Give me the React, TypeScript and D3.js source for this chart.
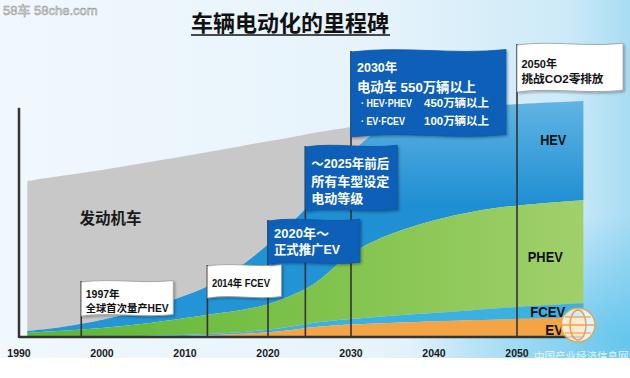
import React from "react";
import * as d3 from "d3";

// ---------- data ----------
const years = [1991, 1995, 2000, 2005, 2010, 2014, 2017, 2020, 2023, 2025, 2027, 2030, 2033, 2036, 2040, 2045, 2050, 2058];
const evValues = [0, 0, 0, 0.2, 0.4, 0.8, 1.3, 1.9, 2.9, 4.0, 4.6, 5.2, 5.6, 6.0, 6.5, 7.1, 7.5, 8.3];
const fcevValues = [0, 0, 0.2, 0.2, 0.4, 0.6, 0.8, 1.0, 1.5, 1.7, 1.9, 2.3, 2.7, 3.1, 3.5, 4.2, 5.0, 5.8];
const phevValues = [1.7, 2.5, 3.5, 5.0, 7.1, 8.5, 9.2, 10.4, 13.1, 14.8, 19.4, 27.9, 32.1, 35.4, 38.8, 41.3, 42.5, 42.9];
const hevValues = [0.8, 1.3, 3.3, 5.8, 9.2, 12.9, 18.8, 25.0, 30.4, 34.6, 37.5, 41.7, 45.8, 45.8, 45.0, 43.3, 42.1, 41.3];
const iceValues = [62.5, 63.3, 62.5, 61.3, 58.3, 55.0, 49.6, 43.3, 35.4, 29.6, 22.5, 10.4, 2.9, 0, 0, 0, 0, 0];

const seriesKeys = ["EV", "FCEV", "PHEV", "HEV", "ICE"];
const tickYears = [1990, 2000, 2010, 2020, 2030, 2040, 2050];

const flagYears = [1997.5, 2012.7, 2020, 2024.5, 2030, 2050];
const flagTexts = [
  ["1997年", "全球首次量产HEV"],
  ["2014年  FCEV"],
  ["2020年～", "正式推广EV"],
  ["～2025年前后", "所有车型设定", "电动等级"],
  ["2030年", "电动车  550万辆以上"],
  ["2050年", "挑战CO2零排放"],
];
const bulletLabels = ["· HEV·PHEV", "· EV·FCEV"];
const bulletValues = ["450万辆以上", "100万辆以上"];
const seriesLabels = ["HEV", "PHEV", "FCEV", "EV"];
const title = "车辆电动化的里程碑";
const iceLabel = "发动机车";

// ---------- layout ----------
const W = 630, H = 378;
const FONT = "'Liberation Sans', 'Noto Sans CJK SC', sans-serif";
const x = d3.scaleLinear().domain([1990, 2050]).range([19, 517]);
const y = d3.scaleLinear().domain([0, 100]).range([337, 97]);

const flagLayout = [
  { w: 92, top: 282, bottom: 316, a: 2.5, blue: false, fs: [10.5, 10.5], off: [16, 30], tl: [0, 83] },
  { w: 74, top: 266, bottom: 298, a: 2.5, blue: false, fs: [10.5], off: [21], tl: [58] },
  { w: 92, top: 221, bottom: 264, a: 3, blue: true, fs: [13, 13], off: [17, 33], tl: [0, 66] },
  { w: 92, top: 147, bottom: 211, a: 3, blue: true, fs: [13, 13, 13], off: [21, 39, 56], tl: [78, 78, 52] },
  { w: 155, top: 52, bottom: 137, a: 4, blue: true, fs: [12.5, 13.5], off: [20, 40], tl: [0, 119] },
  { w: 106, top: 45, bottom: 92, a: 3, blue: false, fs: [11, 11], off: [23, 38], tl: [0, 82] },
];

const colors: Record<string, string> = {
  EV: "#f3a545",
  FCEV: "#3db0e2",
  PHEV: "url(#gPhev)",
  HEV: "url(#gHev)",
  ICE: "#c8c8c8",
};

function flagPath(x0: number, w: number, yT: number, yB: number, a: number) {
  const x1 = x0 + w;
  return `M${x0},${yT} C${x0 + w * 0.35},${yT - a * 1.6} ${x0 + w * 0.65},${yT + a * 0.8} ${x1},${yT - a * 0.6}` +
    ` L${x1},${yB - a * 0.6} C${x0 + w * 0.65},${yB + a * 0.8} ${x0 + w * 0.35},${yB - a * 1.6} ${x0},${yB} Z`;
}

export default function App() {
  const table = years.map((yr, i) => ({
    year: yr,
    EV: evValues[i],
    FCEV: fcevValues[i],
    PHEV: phevValues[i],
    HEV: hevValues[i],
    ICE: iceValues[i],
  }));
  const stack = d3.stack<any>().keys(seriesKeys);
  const layers = stack(table);
  const area = d3
    .area<any>()
    .x((d) => x(d.data.year))
    .y0((d) => y(d[0]))
    .y1((d) => y(d[1]))
    .curve(d3.curveBasis);

  const lastYear = years[years.length - 1];
  const labelPos = [
    { yr: 2052.8, yv: 80, tl: 26 },
    { yr: 2051.3, yv: 31.3, tl: 35 },
    { yr: 2051.6, yv: 8.3, tl: 35 },
    { yr: 2053.4, yv: 0.8, tl: 18 },
  ];

  return (
    <svg width={W} height={H} style={{ position: "absolute", left: 0, top: 0 }} fontFamily={FONT}>
      <defs>
        <linearGradient id="gBg" x1="0" y1="0" x2="1" y2="0">
          <stop offset="0" stopColor="#f1f8fd" />
          <stop offset="0.6" stopColor="#e6f3fb" />
          <stop offset="0.9" stopColor="#cdeaf8" />
          <stop offset="1" stopColor="#a8dcf3" />
        </linearGradient>
        <radialGradient id="gGlow" cx="1" cy="0.95" r="0.35">
          <stop offset="0" stopColor="#5ec3ec" stopOpacity="0.9" />
          <stop offset="1" stopColor="#5ec3ec" stopOpacity="0" />
        </radialGradient>
        <linearGradient id="gHev" gradientUnits="userSpaceOnUse" x1="0" y1="100" x2="0" y2="330">
          <stop offset="0" stopColor="#62b4e4" />
          <stop offset="0.45" stopColor="#1f8fd3" />
          <stop offset="1" stopColor="#2496d6" />
        </linearGradient>
        <linearGradient id="gPhev" gradientUnits="userSpaceOnUse" x1="20" y1="0" x2="590" y2="0">
          <stop offset="0" stopColor="#5bb43a" />
          <stop offset="0.5" stopColor="#7dc24a" />
          <stop offset="1" stopColor="#a2d06c" />
        </linearGradient>
        <filter id="shadow" x="-10%" y="-10%" width="130%" height="140%">
          <feDropShadow dx="1.5" dy="1.5" stdDeviation="1" floodColor="#000" floodOpacity="0.3" />
        </filter>
      </defs>

      {/* background */}
      <rect x={0} y={0} width={W} height={H} fill="#ffffff" />
      <rect x={0} y={0} width={W} height={358} fill="url(#gBg)" />
      <rect x={0} y={0} width={W} height={358} fill="url(#gGlow)" />

      {/* watermark */}
      <text x={3} y={15} fontSize={13} fill="#eeeeee" stroke="#8a8a8a" strokeWidth={0.5}>
        58车  58che.com
      </text>

      {/* title */}
      <text x={290} y={31} fontSize={22} fontWeight="bold" textAnchor="middle" fill="#111">
        {title}
      </text>
      <line x1={191} x2={390} y1={35} y2={35} stroke="#111" strokeWidth={1.5} />

      {/* stacked areas: ICE drawn first so coloured layers sit above */}
      {[...layers].reverse().map((layer) => (
        <path key={layer.key} d={area(layer) as string} fill={colors[layer.key]} />
      ))}

      {/* ICE label */}
      <text x={x(1997.3)} y={y(47)} fontSize={15.5} fontWeight="bold" fill="#1a1a1a">
        {iceLabel}
      </text>

      {/* axes */}
      <line x1={x(1990)} x2={x(1990)} y1={y(95.5)} y2={y(0) + 1} stroke="#333" strokeWidth={2.5} />
      <line x1={x(1990)} x2={x(lastYear) - 2} y1={y(0)} y2={y(0)} stroke="#333" strokeWidth={2.5} />
      {tickYears.map((t) => (
        <text key={t} x={x(t)} y={357} fontSize={10.5} fontWeight="bold" textAnchor="middle" fill="#1a1a1a">
          {t}
        </text>
      ))}

      {/* flag poles (under all flags) */}
      {flagYears.map((fy, i) => (
        <line key={"p" + fy} x1={x(fy)} x2={x(fy)} y1={flagLayout[i].top - 1} y2={y(0)} stroke="#333" strokeWidth={1.6} />
      ))}

      {/* series labels */}
      {seriesLabels.map((s, i) => (
        <text key={s} x={x(labelPos[i].yr)} y={y(labelPos[i].yv)} fontSize={15}
          fontWeight="bold" fill="#111" textLength={labelPos[i].tl} lengthAdjust="spacingAndGlyphs">
          {s}
        </text>
      ))}

      {/* flags */}
      {flagYears.map((fy, i) => {
        const L = flagLayout[i];
        const px = x(fy);
        const txtColor = L.blue ? "#ffffff" : "#111";
        return (
          <g key={fy}>
            <path d={flagPath(px, L.w, L.top, L.bottom, L.a)}
              fill={L.blue ? "#0d5fb8" : "#ffffff"}
              stroke={L.blue ? "#0b55a6" : "#9a9a9a"} strokeWidth={0.8}
              filter="url(#shadow)" />
            {flagTexts[i].map((t, j) => (
              <text key={j} x={px + (L.blue ? 6 : 4.5)} y={L.top + L.off[j]} fontSize={L.fs[j]}
                fontWeight="bold" fill={txtColor}
                {...(L.tl[j] ? { textLength: L.tl[j], lengthAdjust: "spacingAndGlyphs" } : {})}>
                {t}
              </text>
            ))}
            {i === 4 &&
              bulletLabels.map((b, j) => (
                <g key={b}>
                  <text x={px + 10} y={L.top + 55 + j * 18} fontSize={11.5} fontWeight="bold" fill="#fff"
                    textLength={j === 0 ? 51 : 44} lengthAdjust="spacingAndGlyphs">
                    {b}
                  </text>
                  <text x={px + 73} y={L.top + 55 + j * 18} fontSize={11.5} fontWeight="bold" fill="#fff"
                    textLength={65} lengthAdjust="spacingAndGlyphs">
                    {bulletValues[j]}
                  </text>
                </g>
              ))}
          </g>
        );
      })}

      {/* bottom-right logo + site watermark */}
      <g opacity={0.9}>
        <circle cx={578} cy={325} r={17} fill="#ffffff" fillOpacity={0.85} stroke="#f0a040" strokeWidth={1.5} />
        <ellipse cx={578} cy={325} rx={8} ry={15} fill="none" stroke="#f0a040" strokeWidth={1.5} />
        <line x1={562} x2={594} y1={325} y2={325} stroke="#f0a040" strokeWidth={1.5} />
        <line x1={565} x2={591} y1={317} y2={317} stroke="#f0a040" strokeWidth={1.2} />
        <line x1={565} x2={591} y1={333} y2={333} stroke="#f0a040" strokeWidth={1.2} />
      </g>
      <text x={534} y={360} fontSize={10.5} fill="#ffffff" fillOpacity={0.8}>
        中国产业经济信息网
      </text>
    </svg>
  );
}
